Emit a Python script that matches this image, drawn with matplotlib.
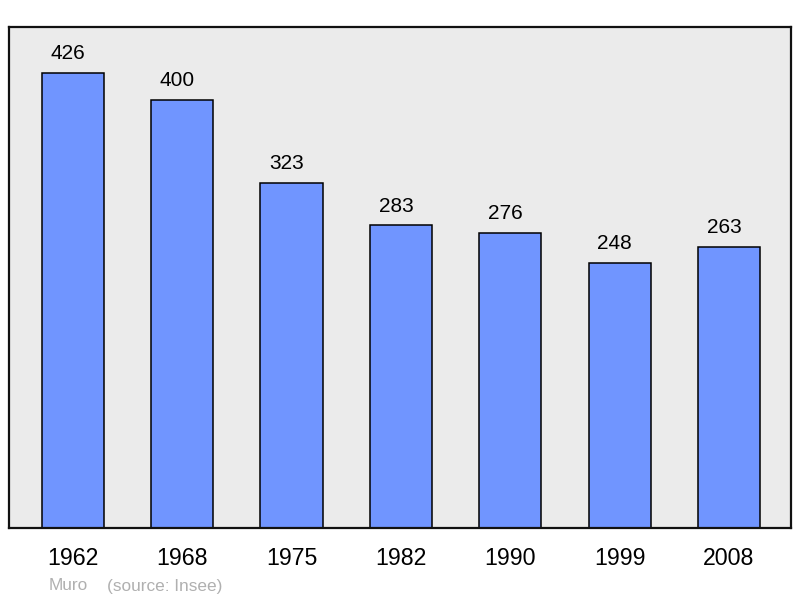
import matplotlib
matplotlib.use("Agg")
import matplotlib.pyplot as plt

years = ["1962", "1968", "1975", "1982", "1990", "1999", "2008"]
population = [426, 400, 323, 283, 276, 248, 263]
commune = "Muro"
source = "(source: Insee)"

plt.rcParams['font.family'] = ['Liberation Sans', 'DejaVu Sans']

fig = plt.figure(figsize=(8, 5.98), dpi=100)
ax = fig.add_axes([9/800, 1 - 528/598, 782/800, (528 - 27)/598])
ax.set_facecolor('#ebebeb')

x = list(range(len(years)))
bars = ax.bar(x, population, width=0.57, color='#7095ff', edgecolor='black', linewidth=1.1, zorder=2)

for xi, v in zip(x, population):
    ax.annotate(str(v), (xi, v), xytext=(-3.6, 10), textcoords='offset points',
                ha='center', va='baseline', fontsize=15, color='black')

ax.set_xlim(-0.585, 6.567)
ax.set_ylim(0, max(population) * 1.1)
ax.set_xticks(x)
ax.set_xticklabels(years, fontsize=16.7)
ax.tick_params(axis='x', length=0, pad=13.5)
ax.set_yticks([])
for s in ax.spines.values():
    s.set_linewidth(1.6)
    s.set_color('#111111')

fig.text(49/800, 1 - 586/598, commune, fontsize=12.4, color='#b0b0b0', va='center', ha='left')
fig.text(107/800, 1 - 586/598, source, fontsize=12.4, color='#b0b0b0', va='center', ha='left')

fig.savefig('out.png', dpi=100)
